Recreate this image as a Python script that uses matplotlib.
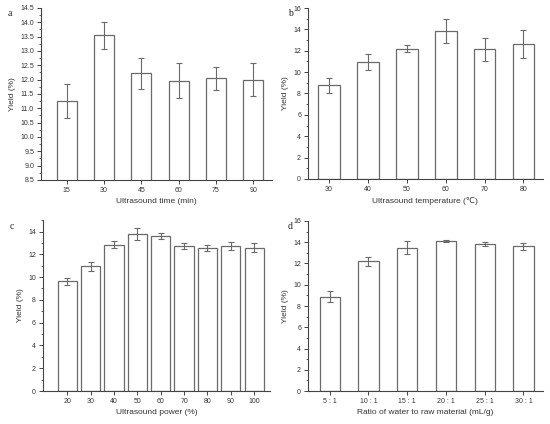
import matplotlib
matplotlib.use("Agg")
import matplotlib.pyplot as plt
from matplotlib.ticker import MultipleLocator

# Panel a
time_cats = ["15", "30", "45", "60", "75", "90"]
time_yield = [11.25, 13.55, 12.22, 11.96, 12.05, 12.0]
time_err = [0.59, 0.47, 0.53, 0.61, 0.40, 0.58]

# Panel b
temp_cats = ["30", "40", "50", "60", "70", "80"]
temp_yield = [8.78, 10.95, 12.2, 13.85, 12.13, 12.6]
temp_err = [0.70, 0.78, 0.36, 1.10, 1.10, 1.30]

# Panel c
power_cats = ["20", "30", "40", "50", "60", "70", "80", "90", "100"]
power_yield = [9.65, 10.94, 12.85, 13.82, 13.64, 12.74, 12.58, 12.74, 12.58]
power_err = [0.30, 0.42, 0.28, 0.52, 0.26, 0.27, 0.26, 0.35, 0.38]

# Panel d
ratio_cats = ["5 : 1", "10 : 1", "15 : 1", "20 : 1", "25 : 1", "30 : 1"]
ratio_yield = [8.89, 12.19, 13.5, 14.13, 13.82, 13.6]
ratio_err = [0.52, 0.40, 0.60, 0.12, 0.17, 0.33]

plt.rcParams['font.family'] = ['Liberation Sans', 'DejaVu Sans']

fig = plt.figure(figsize=(5.5, 4.24), dpi=100)

EC = "#6a6a6a"
AXC = "#444444"

panels = [
    dict(rect=[0.0745, 0.5755, 0.42, 0.4057], cats=time_cats, y=time_yield, e=time_err,
         ylim=(8.5, 14.5), major=0.5, minor=0.25, fmt="%.1f", width=0.54, xlim=(-0.69, 5.5),
         xlabel="Ultrasound time (min)", letter="a", lpos=(8, 13)),
    dict(rect=[0.56, 0.578, 0.427, 0.403], cats=temp_cats, y=temp_yield, e=temp_err,
         ylim=(0, 16), major=2, minor=1, fmt="%d", width=0.56, xlim=(-0.54, 5.5),
         xlabel="Ultrasound temperature (\u2103)", letter="b", lpos=(288, 13)),
    dict(rect=[0.078, 0.0778, 0.413, 0.403], cats=power_cats, y=power_yield, e=power_err,
         ylim=(0, 15), major=2, minor=1, fmt="%d", width=0.82, xlim=(-1.04, 8.68),
         xlabel="Ultrasound power (%)", letter="c", lpos=(10, 227)),
    dict(rect=[0.56, 0.0778, 0.427, 0.401], cats=ratio_cats, y=ratio_yield, e=ratio_err,
         ylim=(0, 16), major=2, minor=1, fmt="%d", width=0.52, xlim=(-0.56, 5.5),
         xlabel="Ratio of water to raw material (mL/g)", letter="d", lpos=(288, 226)),
]

for p in panels:
    ax = fig.add_axes(p["rect"])
    x = list(range(len(p["cats"])))
    ax.bar(x, p["y"], width=p["width"], color="white", edgecolor=EC, linewidth=0.9,
           yerr=p["e"], error_kw=dict(ecolor=EC, elinewidth=0.8, capsize=2.2, capthick=0.8))
    ax.set_xlim(*p["xlim"])
    ax.set_ylim(*p["ylim"])
    ax.set_xticks(x)
    ax.set_xticklabels(p["cats"])
    ax.yaxis.set_major_locator(MultipleLocator(p["major"]))
    ax.yaxis.set_minor_locator(MultipleLocator(p["minor"]))
    ax.yaxis.set_major_formatter(matplotlib.ticker.FormatStrFormatter(p["fmt"]))
    for s in ["top", "right"]:
        ax.spines[s].set_visible(False)
    for s in ["left", "bottom"]:
        ax.spines[s].set_color(AXC)
        ax.spines[s].set_linewidth(0.8)
    ax.tick_params(axis="both", which="major", direction="out", length=3, width=0.7,
                   colors=AXC, labelsize=5, labelcolor="#333333", pad=2)
    ax.tick_params(axis="y", which="minor", direction="out", length=1.8, width=0.6, colors=AXC)
    ax.set_xlabel(p["xlabel"], fontsize=6, color="#333333", labelpad=3)
    ax.set_ylabel("Yield (%)", fontsize=6, color="#333333", labelpad=3)
    lx, ly = p["lpos"]
    fig.text(lx / 550, 1 - ly / 424, p["letter"], fontsize=7, family="Liberation Serif",
             ha="left", va="center", color="#222222")

fig.savefig("out.png", dpi=100, facecolor="white")
